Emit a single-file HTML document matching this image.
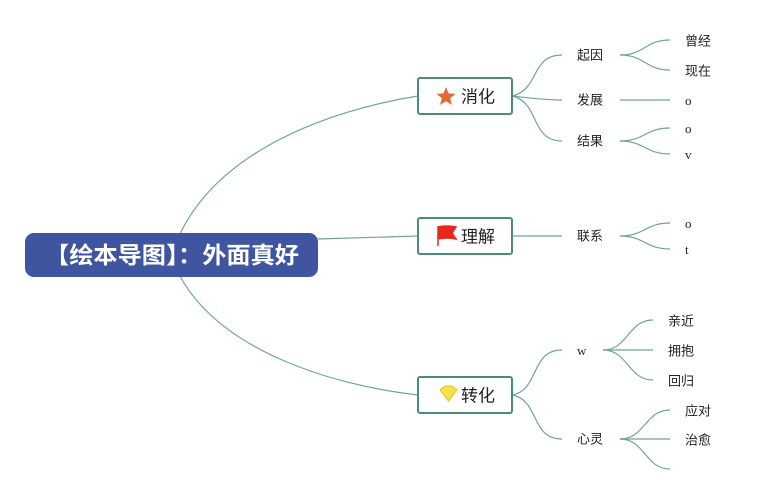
<!DOCTYPE html>
<html><head><meta charset="utf-8"><style>
body{margin:0;background:#fff;}
svg{display:block;}
text{font-family:"Liberation Sans","Noto Sans CJK SC",sans-serif;font-size:13px;fill:#222;dominant-baseline:middle;}
.s{font-family:"Liberation Serif",serif;}
</style></head><body>
<svg width="773" height="495" viewBox="0 0 773 495">
<g fill="none" stroke="#6fa593" stroke-width="1.2">
<path d="M180 234 C220 150 330 110 418 96"/>
<path d="M318 239 L418 236"/>
<path d="M180 276 C220 350 330 385 418 395"/>
<path d="M512 96 C540 90 530 55 562 55"/>
<path d="M512 96 C530 98 545 100 562 100"/>
<path d="M512 96 C540 102 530 141 562 141"/>
<path d="M620 55 C645 55 645 40 670 40"/>
<path d="M620 55 C645 55 645 70 670 70"/>
<path d="M620 100 L670 100"/>
<path d="M620 141 C645 141 645 128 670 128"/>
<path d="M620 141 C645 141 645 154 670 154"/>
<path d="M512 236 L562 236"/>
<path d="M620 236 C645 236 645 223 670 223"/>
<path d="M620 236 C645 236 645 249 670 249"/>
<path d="M512 395 C540 390 530 350 562 350"/>
<path d="M512 395 C540 400 530 439 562 439"/>
<path d="M603 350 C628 350 628 320 653 320"/>
<path d="M603 350 L653 350"/>
<path d="M603 350 C628 350 628 380 653 380"/>
<path d="M620 439 C645 439 645 410 670 410"/>
<path d="M620 439 L670 439"/>
<path d="M620 439 C645 439 645 469 670 469"/>
</g>
<rect x="25" y="233" width="293" height="44" rx="9" fill="#3f55a0"/>
<text x="172" y="257" text-anchor="middle" style="font-size:23px;fill:#fff;font-weight:bold" textLength="254" lengthAdjust="spacingAndGlyphs">【绘本导图】：外面真好</text>
<g fill="#fff" stroke="#4d8b7a" stroke-width="2">
<rect x="418" y="78" width="94" height="36" rx="2"/>
<rect x="418" y="218" width="94" height="36" rx="2"/>
<rect x="418" y="377" width="94" height="36" rx="2"/>
</g>
<polygon points="446,87 448.6,93.4 455.5,93.9 450.2,98.3 451.9,105 446,101.3 440.1,105 441.8,98.3 436.5,93.9 443.4,93.4" fill="#e26a34"/>
<text x="461" y="98" style="font-size:17px">消化</text>
<path d="M438 226 L438 246 M438 227 Q447 225 456 227 L452 233 L456 239 Q447 237 438 239Z" fill="#e8281c" stroke="#e8281c" stroke-width="1.5"/>
<text x="461" y="238" style="font-size:17px">理解</text>
<path d="M440 390 L445 386 L452 386 L457 390 L448.5 401Z" fill="#f5e24a" stroke="#e0c820"/>
<text x="461" y="397" style="font-size:17px">转化</text>
<text x="577" y="56">起因</text>
<text x="577" y="101">发展</text>
<text x="577" y="142">结果</text>
<text x="577" y="237">联系</text>
<text x="577" y="352" class="s">w</text>
<text x="577" y="440">心灵</text>
<text x="685" y="42">曾经</text>
<text x="685" y="72">现在</text>
<text x="685" y="102" class="s">o</text>
<text x="685" y="130" class="s">o</text>
<text x="685" y="156" class="s">v</text>
<text x="685" y="225" class="s">o</text>
<text x="685" y="251" class="s">t</text>
<text x="668" y="322">亲近</text>
<text x="668" y="352">拥抱</text>
<text x="668" y="382">回归</text>
<text x="685" y="412">应对</text>
<text x="685" y="441">治愈</text>
</svg>
</body></html>
